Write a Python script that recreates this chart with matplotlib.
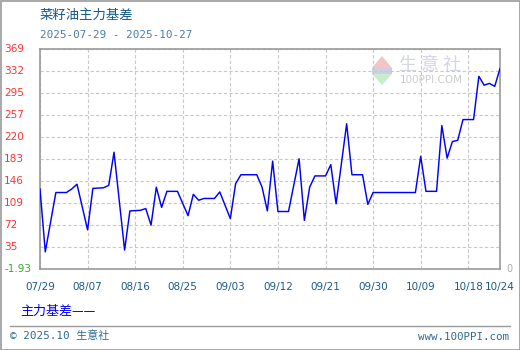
import numpy as np
import pandas as pd
import matplotlib
matplotlib.use('Agg')
import matplotlib.pyplot as plt
from matplotlib.patches import Polygon, Rectangle
import matplotlib.transforms as mtransforms

plt.rcParams['font.family'] = ['DejaVu Sans', 'Noto Sans CJK SC']

# 主力基差 vertices (calendar days, weekends forward-filled)
dates = [
    '2025-07-29', '2025-07-30', '2025-08-01', '2025-08-03', '2025-08-04',
    '2025-08-05', '2025-08-07', '2025-08-08', '2025-08-10', '2025-08-11',
    '2025-08-12', '2025-08-14', '2025-08-15', '2025-08-17', '2025-08-18',
    '2025-08-19', '2025-08-20', '2025-08-21', '2025-08-22', '2025-08-24',
    '2025-08-26', '2025-08-27', '2025-08-28', '2025-08-29', '2025-08-31',
    '2025-09-01', '2025-09-03', '2025-09-04', '2025-09-05', '2025-09-08',
    '2025-09-09', '2025-09-10', '2025-09-11', '2025-09-12', '2025-09-14',
    '2025-09-16', '2025-09-17', '2025-09-18', '2025-09-19', '2025-09-21',
    '2025-09-22', '2025-09-23', '2025-09-25', '2025-09-26', '2025-09-28',
    '2025-09-29', '2025-09-30', '2025-10-08', '2025-10-09', '2025-10-10',
    '2025-10-12', '2025-10-13', '2025-10-14', '2025-10-15', '2025-10-16',
    '2025-10-17', '2025-10-19', '2025-10-20', '2025-10-21', '2025-10-22',
    '2025-10-23', '2025-10-24',
]
basis = [
    133, 27, 127, 127, 133,
    141, 64, 134, 135, 139,
    195, 30, 96, 97, 100,
    72, 136, 102, 129, 129,
    88, 124, 114, 117, 117,
    128, 83, 142, 157, 157,
    136, 96, 180, 95, 95,
    184, 80, 136, 155, 155,
    174, 108, 243, 157, 157,
    107, 127, 127, 188, 129,
    129, 240, 185, 213, 215,
    250, 250, 323, 308, 311,
    306, 336,
]

x_tick_labels = ['07/29', '08/07', '08/16', '08/25', '09/03', '09/12',
                 '09/21', '09/30', '10/09', '10/18', '10/24']
y_tick_labels = ['-1.93', '35', '72', '109', '146', '183',
                 '220', '257', '295', '332', '369']
y_min, y_max = -1.93, 369

W, H = 520, 350
fig = plt.figure(figsize=(W / 100, H / 100), dpi=100)
fig.patch.set_facecolor('white')

# plot area in pixels: left 40, right 500, top 49, bottom 269
ax = fig.add_axes([40 / W, 1 - 269 / H, 460 / W, 220 / H])
ax.set_facecolor('none')

start = pd.Timestamp('2025-07-29')
days = (pd.to_datetime(dates) - start).days.values
tick_days = [(pd.Timestamp('2025-' + t.replace('/', '-')) - start).days
             for t in x_tick_labels]
y_ticks = np.linspace(y_min, y_max, len(y_tick_labels))

ax.plot(days, basis, color='#0000ff', lw=1.05, zorder=3)

ax.set_xlim(0, tick_days[-1])
ax.set_ylim(y_min, y_max)
ax.set_xticks(tick_days)
ax.set_yticks(y_ticks)
ax.tick_params(length=0, labelbottom=False, labelleft=False)
ax.grid(True, color='#c8c8c8', lw=0.8, linestyle=(0, (3, 2)))
for s in ax.spines.values():
    s.set_color('#9a9a9a')
    s.set_linewidth(1.2)

# tick labels
xt = mtransforms.blended_transform_factory(ax.transData, ax.transAxes)
for d, lab in zip(tick_days, x_tick_labels):
    ax.text(d, -18 / 220, lab, transform=xt, ha='center', va='center',
            fontsize=7.5, color='#1a5a8a')
yt = ax.get_yaxis_transform()
for v, lab in zip(y_ticks, y_tick_labels):
    col = '#33aa33' if lab.startswith('-') else '#ff3333'
    ax.text(-36 / 460, v, lab, transform=yt, ha='left', va='center',
            fontsize=7.6, color=col)
ax.text(1 + 6 / 460, y_min, '0', transform=yt, ha='left', va='center',
        fontsize=7, color='#aaaaaa')

# overlay in pixel coordinates for decorations (behind the plot)
ov = fig.add_axes([0, 0, 1, 1], zorder=-1)
ov.set_xlim(0, W)
ov.set_ylim(H, 0)
ov.axis('off')

ov.add_patch(Rectangle((0.5, 0.5), W - 1, H - 1, fill=False,
                       ec='#9a9a9a', lw=1.2))
ov.plot([10, 510], [326, 326], color='#9a9a9a', lw=1)

ov.text(40, 15, '菜籽油主力基差', fontsize=9.6, color='#14598c',
        family=['Noto Sans CJK SC'], va='center', ha='left')
ov.text(40, 35, '2025-07-29 - 2025-10-27', fontsize=7.9, color='#4a7eae',
        family=['DejaVu Sans Mono'], va='center', ha='left')

ov.text(20, 311, '主力基差——', fontsize=9.4, color='#0000ff',
        family=['Noto Sans CJK SC'], va='center', ha='left')

ov.text(10, 336, '© 2025.10 生意社', fontsize=7.9, color='#2f6a94',
        family=['DejaVu Sans Mono', 'Noto Sans CJK SC'], va='center', ha='left')
ov.text(509, 337, 'www.100PPI.com', fontsize=7.8, color='#2f6a94',
        family=['DejaVu Sans Mono'], va='center', ha='right')

# faint watermark logo
ov.add_patch(Polygon([[372, 68], [392, 68], [382, 56]], closed=True,
                     fc='#f4c4c4', ec='none'))
ov.add_patch(Rectangle((372, 68), 20, 6, fc='#ccd0e2', ec='none'))
ov.add_patch(Polygon([[372, 74], [392, 74], [382, 85]], closed=True,
                     fc='#c8ecce', ec='none'))
ov.text(430, 65, '生 意 社', fontsize=13, color='#d2d6e6',
        family=['Noto Sans CJK SC'], va='center', ha='center')
ov.text(431, 80, '100PPI.COM', fontsize=7.5, color='#cccccc',
        va='center', ha='center')

fig.savefig('out.png', dpi=100)
